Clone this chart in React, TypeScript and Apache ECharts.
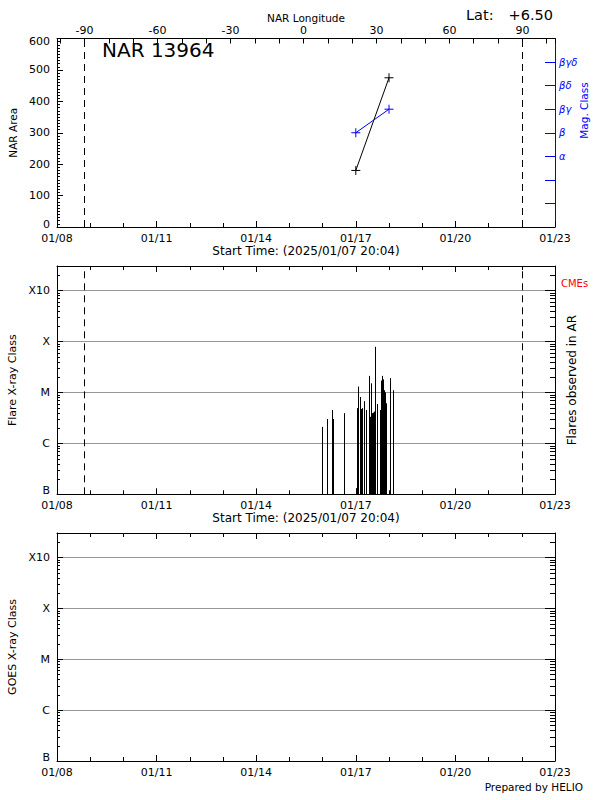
import React, { useEffect, useRef } from 'react';
import * as echarts from 'echarts';

// ---------- data ----------
const TITLE = 'NAR 13964';
const LATITUDE = '+6.50';
const START_TIME = '2025/01/07 20:04';
const CREDIT = 'Prepared by HELIO';

const AXIS_START = '2025-01-08';
const AXIS_SPAN_DAYS = 15;
const DAY_TICK_STEP = 3;

const LON_MIN = -101.3;
const LON_MAX = 103.4;
const LON_TICK_STEP = 30;
const LIMB_LONGITUDES = [-90, 90];

const AREA_MIN = 0;
const AREA_MAX = 600;
const AREA_STEP = 100;

const NAR_DATES = ['2025-01-17T00:00', '2025-01-18T00:00'];
const NAR_AREA = [180, 475];
const NAR_MAG_CLASS = ['β', 'βγ'];
const MAG_CLASS_LABELS = ['', '', '', 'α', 'β', 'βγ', 'βδ', 'βγδ', ''];

const XRAY_CLASS_LABELS = ['B', 'C', 'M', 'X', 'X10'];
const XRAY_MIN_FLUX = 1e-7; // B1
const XRAY_MAX_FLUX = 3e-3; // X30

const FLARE_TIMES = [
  '2025-01-15T23:24', '2025-01-15T23:54', '2025-01-16T03:01', '2025-01-16T07:09',
  '2025-01-16T07:52', '2025-01-16T15:19', '2025-01-16T23:47', '2025-01-17T00:39',
  '2025-01-17T01:57', '2025-01-17T02:41', '2025-01-17T03:24', '2025-01-17T04:08',
  '2025-01-17T05:47', '2025-01-17T07:32', '2025-01-17T09:12', '2025-01-17T10:25',
  '2025-01-17T11:08', '2025-01-17T11:37', '2025-01-17T12:05', '2025-01-17T13:02',
  '2025-01-17T13:45', '2025-01-17T14:59', '2025-01-17T17:40', '2025-01-17T18:23',
  '2025-01-17T18:49', '2025-01-17T19:32', '2025-01-17T20:15', '2025-01-17T20:54',
  '2025-01-17T21:16', '2025-01-17T21:59', '2025-01-17T23:53', '2025-01-18T00:53',
  '2025-01-18T03:03',
];
const FLARE_CLASSES = [
  'C2.1', 'B1.1', 'C3.0', 'C4.5',
  'C3.0', 'C3.9', 'B1.3', 'C4.9',
  'M1.3', 'C8.1', 'C4.7', 'C4.9',
  'C6.7', 'C4.5', 'M2.1', 'C3.3',
  'M1.5', 'C3.9', 'C4.0', 'C4.2',
  'M7.8', 'C5.9', 'C4.5', 'M1.7',
  'M2.1', 'M1.8', 'M1.1', 'C8.9',
  'M1.0', 'C6.1', 'B1.1', 'M1.9',
  'M1.1',
];

// ---------- helpers ----------
const FONT = 'DejaVu Sans';
const BLUE = '#0000ff';
const GRID_GRAY = '#969696';
const DAY_MS = 86400000;
const START_MS = Date.parse(AXIS_START + 'T00:00:00Z');
const toDay = (s: string) => (Date.parse(s + ':00Z') - START_MS) / DAY_MS;
const pad = (n: number) => (n < 10 ? '0' : '') + n;
const dayLabel = (v: number) => {
  const d = new Date(START_MS + v * DAY_MS);
  return pad(d.getUTCMonth() + 1) + '/' + pad(d.getUTCDate());
};
const CLASS_BASE: Record<string, number> = { A: -8, B: -7, C: -6, M: -5, X: -4 };
const classToLog = (c: string) => CLASS_BASE[c[0]] + Math.log10(parseFloat(c.slice(1)));
const LOG_MIN = Math.log10(XRAY_MIN_FLUX);
const LOG_MAX = Math.log10(XRAY_MAX_FLUX);
const lonToDay = (lon: number) => ((lon - LON_MIN) / (LON_MAX - LON_MIN)) * AXIS_SPAN_DAYS;
const xrayLabel = (v: number) => {
  if (Math.abs(v - Math.round(v)) > 1e-6) return '';
  const s = XRAY_CLASS_LABELS[Math.round(v - LOG_MIN)] ?? '';
  return Math.abs(v - LOG_MIN) < 1e-6 ? `{lo|${s}}` : s;
};

// log minor tick positions (2..9 x 10^n) inside the axis range
const LOG_MINOR_TICKS: number[] = [];
for (let n = Math.floor(LOG_MIN); n <= Math.ceil(LOG_MAX); n++) {
  for (let k = 2; k <= 9; k++) {
    const v = n + Math.log10(k);
    if (v > LOG_MIN && v < LOG_MAX) LOG_MINOR_TICKS.push(v);
  }
}

const black = { color: '#000', width: 1 };
const labelBase = { color: '#000', fontSize: 11, fontFamily: FONT };

const dayAxis = (gridIndex: number, position: string, showLabels: boolean, name?: string) => ({
  type: 'value',
  gridIndex,
  position,
  min: 0,
  max: AXIS_SPAN_DAYS,
  interval: DAY_TICK_STEP,
  z: 3,
  axisLine: { onZero: false, lineStyle: black },
  axisTick: { inside: true, length: 6, lineStyle: black },
  minorTick: { show: true, splitNumber: DAY_TICK_STEP, length: 4, lineStyle: black },
  axisLabel: { show: showLabels, formatter: dayLabel, ...labelBase, margin: 6 },
  splitLine: { show: false },
  name: name ?? '',
  nameLocation: 'middle',
  nameGap: 17,
  nameTextStyle: { color: '#000', fontSize: 12, fontFamily: FONT },
});

const logAxis = (gridIndex: number, position: string, name: string, left: boolean) => ({
  type: 'value',
  gridIndex,
  position,
  min: LOG_MIN,
  max: LOG_MAX,
  interval: 1,
  axisLine: { onZero: false, lineStyle: black },
  axisTick: { inside: true, length: left ? 6 : 10, lineStyle: black },
  axisLabel: {
    show: left,
    formatter: xrayLabel,
    ...labelBase,
    margin: 7,
    rich: { lo: { ...labelBase, padding: [0, 0, 7, 0] } },
  },
  splitLine: { show: left, lineStyle: { color: GRID_GRAY, width: 1 } },
  name,
  nameLocation: 'middle',
  nameRotate: 90,
  nameGap: left ? 36 : 11,
  nameTextStyle: { color: '#000', fontSize: left ? 11 : 12, fontFamily: FONT },
});

const minorTickSeries = (idx: number) => ({
  type: 'custom',
  xAxisIndex: idx,
  yAxisIndex: idx,
  silent: true,
  clip: false,
  data: LOG_MINOR_TICKS.map((v) => [0, v]),
  renderItem: (params: any, api: any) => {
    const cs = params.coordSys;
    const y = Math.round(api.coord([0, api.value(1)])[1]) + 0.5;
    return {
      type: 'group',
      children: [
        { type: 'line', shape: { x1: cs.x, y1: y, x2: cs.x + 3, y2: y }, style: { stroke: '#000', lineWidth: 1 } },
        { type: 'line', shape: { x1: cs.x + cs.width - 5, y1: y, x2: cs.x + cs.width, y2: y }, style: { stroke: '#000', lineWidth: 1 } },
      ],
    };
  },
});

const dashedMarkLine = (values: number[]) => ({
  silent: true,
  symbol: ['none', 'none'],
  label: { show: false },
  lineStyle: { type: [7, 5], color: '#000', width: 1 },
  data: values.map((v) => ({ xAxis: v })),
});

const PLUS = 'path://M0,5L10,5M5,0L5,10';

export default function App() {
  const ref = useRef<HTMLDivElement>(null);
  useEffect(() => {
    if (!ref.current) return;
    const chart = echarts.init(ref.current, undefined, { renderer: 'svg' });
    const narDays = NAR_DATES.map(toDay);
    const option: any = {
      animation: false,
      backgroundColor: '#fff',
      textStyle: { fontFamily: FONT },
      grid: [
        { left: 57, top: 38.5, width: 498, height: 188.5, containLabel: false, outerBoundsMode: 'none' },
        { left: 57, top: 266, width: 498, height: 228.3, containLabel: false, outerBoundsMode: 'none' },
        { left: 57, top: 533, width: 498, height: 228, containLabel: false, outerBoundsMode: 'none' },
      ],
      xAxis: [
        dayAxis(0, 'bottom', true, `Start Time: (${START_TIME})`),
        {
          type: 'value',
          gridIndex: 0,
          position: 'top',
          min: LON_MIN,
          max: LON_MAX,
          splitNumber: 7,
          minInterval: LON_TICK_STEP,
          maxInterval: LON_TICK_STEP,
          z: 3,
          axisLine: { onZero: false, lineStyle: black },
          axisTick: { inside: true, length: 5, lineStyle: black },
          minorTick: { show: true, splitNumber: 3, length: 5, lineStyle: black },
          axisLabel: {
            formatter: (v: number) => (Math.abs(v % LON_TICK_STEP) < 1e-6 ? String(Math.round(v)) : ''),
            ...labelBase,
            margin: 3,
          },
          splitLine: { show: false },
          name: 'NAR Longitude',
          nameLocation: 'middle',
          nameGap: 14,
          nameTextStyle: { color: '#000', fontSize: 10.5, fontFamily: FONT },
        },
        dayAxis(1, 'bottom', true, `Start Time: (${START_TIME})`),
        dayAxis(1, 'top', false),
        dayAxis(2, 'bottom', true),
        dayAxis(2, 'top', false),
      ],
      yAxis: [
        {
          type: 'value',
          gridIndex: 0,
          position: 'left',
          min: AREA_MIN,
          max: AREA_MAX,
          interval: AREA_STEP,
          axisLine: { onZero: false, lineStyle: black },
          axisTick: { inside: true, length: 6, lineStyle: black },
          minorTick: { show: true, splitNumber: 10, length: 3, lineStyle: black },
          axisLabel: {
            ...labelBase,
            margin: 7,
            formatter: (v: number) => (v === AREA_MIN ? `{lo|${v}}` : v === AREA_MAX ? `{hi|${v}}` : String(v)),
            rich: {
              lo: { ...labelBase, padding: [0, 0, 5, 0] },
              hi: { ...labelBase, padding: [5, 0, 0, 0] },
            },
          },
          splitLine: { show: false },
          name: 'NAR Area',
          nameLocation: 'middle',
          nameRotate: 90,
          nameGap: 36,
          nameTextStyle: { color: '#000', fontSize: 10.5, fontFamily: FONT },
        },
        {
          type: 'value',
          gridIndex: 0,
          position: 'right',
          min: 0,
          max: MAG_CLASS_LABELS.length - 1,
          interval: 1,
          axisLine: { onZero: false, lineStyle: { color: BLUE, width: 1 } },
          axisTick: { inside: true, length: 10, lineStyle: { color: BLUE, width: 1 } },
          axisLabel: {
            formatter: (v: number) => MAG_CLASS_LABELS[Math.round(v)] ?? '',
            color: BLUE, fontSize: 10, fontFamily: FONT, fontStyle: 'italic', margin: 4,
          },
          splitLine: { show: false },
        },
        logAxis(1, 'left', 'Flare X-ray Class', true),
        logAxis(1, 'right', 'Flares observed in AR', false),
        logAxis(2, 'left', 'GOES X-ray Class', true),
        logAxis(2, 'right', '', false),
      ],
      series: [
        {
          type: 'line',
          name: 'NAR Area',
          xAxisIndex: 0,
          yAxisIndex: 0,
          data: narDays.map((d, i) => [d, NAR_AREA[i]]),
          lineStyle: { color: '#000', width: 1 },
          symbol: PLUS,
          symbolSize: 9,
          showSymbol: true,
          itemStyle: { color: 'transparent', borderColor: '#000', borderWidth: 1 },
          z: 4,
        },
        {
          type: 'line',
          name: 'Mag. Class',
          xAxisIndex: 0,
          yAxisIndex: 1,
          data: narDays.map((d, i) => [d, MAG_CLASS_LABELS.indexOf(NAR_MAG_CLASS[i])]),
          lineStyle: { color: BLUE, width: 1 },
          symbol: PLUS,
          symbolSize: 9,
          showSymbol: true,
          itemStyle: { color: 'transparent', borderColor: BLUE, borderWidth: 1 },
          z: 4,
        },
        {
          type: 'line',
          name: 'limb',
          xAxisIndex: 1,
          yAxisIndex: 0,
          data: [],
          markLine: dashedMarkLine(LIMB_LONGITUDES),
        },
        {
          type: 'custom',
          name: 'Flares',
          xAxisIndex: 2,
          yAxisIndex: 2,
          data: FLARE_TIMES.map((t, i) => [toDay(t), classToLog(FLARE_CLASSES[i])]),
          renderItem: (params: any, api: any) => {
            const top = api.coord([api.value(0), api.value(1)]);
            const base = api.coord([api.value(0), LOG_MIN]);
            const x = Math.round(top[0]) + 0.5;
            return {
              type: 'line',
              shape: { x1: x, y1: base[1], x2: x, y2: top[1] },
              style: { stroke: '#000', lineWidth: 1 },
            };
          },
          markLine: dashedMarkLine(LIMB_LONGITUDES.map(lonToDay)),
          z: 3,
        },
        minorTickSeries(2),
        minorTickSeries(4),
      ],
      graphic: [
        { type: 'text', x: 102, y: 50, style: { text: TITLE, fill: '#000', fontSize: 20, fontFamily: FONT, verticalAlign: 'middle' } },
        { type: 'text', x: 466, y: 15, style: { text: 'Lat:', fill: '#000', fontSize: 14.5, fontFamily: FONT, verticalAlign: 'middle' } },
        { type: 'text', x: 553, y: 15, style: { text: LATITUDE, fill: '#000', fontSize: 14.5, fontFamily: FONT, align: 'right', verticalAlign: 'middle' } },
        {
          type: 'text', x: 584, y: 110.5, rotation: Math.PI / 2,
          style: { text: 'Mag. Class', fill: BLUE, fontSize: 10.5, fontFamily: FONT, align: 'center', verticalAlign: 'middle' },
        },
        { type: 'text', x: 561, y: 283, style: { text: 'CMEs', fill: '#ff0000', fontSize: 10, fontFamily: FONT, verticalAlign: 'middle' } },
        { type: 'text', x: 583, y: 787, style: { text: CREDIT, fill: '#000', fontSize: 10.5, fontFamily: FONT, align: 'right', verticalAlign: 'middle' } },
      ],
    };
    chart.setOption(option);
    return () => chart.dispose();
  }, []);
  return <div ref={ref} style={{ position: 'absolute', left: 0, top: 0, width: 600, height: 800 }} />;
}
